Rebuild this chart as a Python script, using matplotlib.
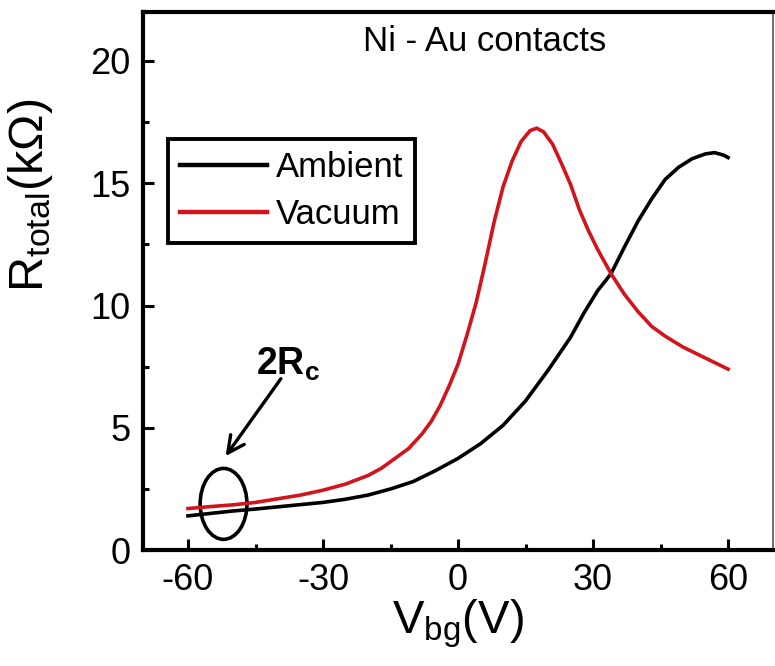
import numpy as np
import matplotlib.pyplot as plt
from matplotlib.patches import Ellipse

plt.rcParams['font.family'] = ['Liberation Sans', 'DejaVu Sans']
plt.rcParams['mathtext.fontset'] = 'custom'
plt.rcParams['mathtext.rm'] = 'Liberation Sans'
plt.rcParams['mathtext.bf'] = 'Liberation Sans:bold'
plt.rcParams['axes.unicode_minus'] = False

# gate sweep, ambient vs vacuum
vbg_ambient = [-60, -55, -50, -45, -40, -35, -30, -25, -20, -15, -10, -5, 0,
               5, 10, 15, 20, 25, 28, 31, 34, 37, 40, 43, 46, 49, 52, 55, 57,
               59, 60]
r_ambient = [1.4, 1.5, 1.6, 1.68, 1.77, 1.86, 1.95, 2.08, 2.25, 2.5, 2.8, 3.25,
             3.75, 4.35, 5.1, 6.1, 7.35, 8.7, 9.7, 10.6, 11.3, 12.4, 13.45,
             14.35, 15.15, 15.65, 16.0, 16.2, 16.25, 16.15, 16.05]

vbg_vacuum = [-60, -55, -50, -45, -40, -35, -30, -25, -20, -17, -14, -11, -8,
              -6, -4, -2, 0, 2, 4, 6, 8, 10, 12, 14, 16, 17.5, 19, 21, 23, 25,
              27, 29, 31, 34, 37, 40, 43, 46, 50, 55, 60]
r_vacuum = [1.7, 1.78, 1.85, 1.95, 2.1, 2.25, 2.45, 2.7, 3.05, 3.35, 3.75, 4.15,
            4.75, 5.25, 5.9, 6.7, 7.6, 8.8, 10.1, 11.7, 13.4, 14.85, 15.9,
            16.7, 17.15, 17.25, 17.1, 16.6, 15.8, 14.95, 13.9, 13.05, 12.3,
            11.3, 10.45, 9.75, 9.15, 8.75, 8.3, 7.85, 7.4]

xticks = [-60, -30, 0, 30, 60]
yticks = [0, 5, 10, 15, 20]

fig = plt.figure(figsize=(7.75, 6.66), dpi=100)
ax = fig.add_axes([0.1845, 0.174, 0.813, 0.808])

ax.plot(vbg_ambient, r_ambient, color='black', lw=2.6, label='Ambient')
ax.plot(vbg_vacuum, r_vacuum, color='#d2141c', lw=2.6, label='Vacuum')

ax.set_xlim(-70, 70)
ax.set_ylim(0, 22)
ax.set_xticks(xticks)
ax.set_yticks(yticks)
ax.set_xticks([-45, -15, 15, 45], minor=True)
ax.set_yticks([2.5, 7.5, 12.5, 17.5], minor=True)
ax.tick_params(which='both', direction='in', top=False, right=False,
               labelsize=26, width=2.2, pad=9)
ax.tick_params(which='major', length=8)
ax.tick_params(which='minor', length=4)

for side in ['left', 'bottom', 'top']:
    ax.spines[side].set_linewidth(3)
ax.spines['right'].set_linewidth(1.2)
ax.spines['right'].set_color('#555555')

ax.set_xlabel(r'$\mathregular{V_{bg}(V)}$', fontsize=34, labelpad=0)
ax.set_ylabel(r'$\mathregular{R_{total}(k\Omega)}$', fontsize=35)
ax.yaxis.set_label_coords(-0.14, 0.66)

ax.text(6, 20.8, 'Ni - Au contacts', fontsize=25, ha='center', va='center')

# contact resistance marker
ax.add_patch(Ellipse((-52.1, 1.89), 10.4, 2.9, fill=False, lw=2.6, color='black'))
ax.annotate('', xy=(-52, 3.75), xytext=(-39, 7.1),
            arrowprops=dict(arrowstyle='->', lw=2.4, color='black',
                            mutation_scale=30))
ax.text(-37.8, 7.6, r'$\mathbf{2R_c}$', fontsize=27, ha='center', va='center')

leg = ax.legend(loc='upper left', bbox_to_anchor=(0.04, 0.764), borderaxespad=0,
                fontsize=25, fancybox=False, framealpha=1, edgecolor='black',
                handlelength=2.5, handletextpad=0.25, labelspacing=0.4,
                borderpad=0.35)
leg.get_frame().set_linewidth(2.8)
for line in leg.get_lines():
    line.set_linewidth(3.2)

fig.savefig('out.png', dpi=100)
